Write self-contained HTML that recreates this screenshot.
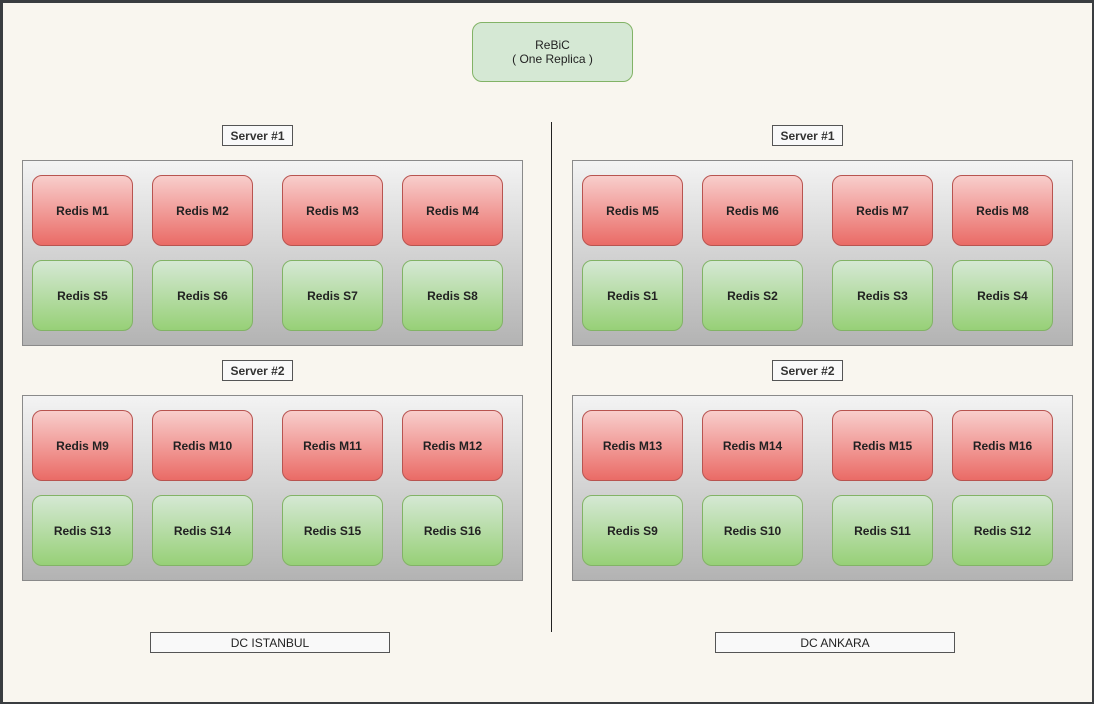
<!DOCTYPE html>
<html><head><style>
*{margin:0;padding:0;box-sizing:border-box}
body{width:1094px;height:704px;position:relative;background:#f9f6ef;font-family:"Liberation Sans",Arial,sans-serif;overflow:hidden}
.frame{position:absolute;left:0;top:0;width:1094px;height:704px;border:3px solid #3a3d40;border-right-width:2px;border-bottom-width:2px}
.a{position:absolute}
.srv{position:absolute;width:501px;height:186px;border:1px solid #8a8a8a;background:linear-gradient(#f3f3f3,#b3b3b3)}
.n{position:absolute;width:101px;height:71px;border-radius:10px;display:flex;align-items:center;justify-content:center;font-size:12px;font-weight:bold;color:#222}
.m{background:linear-gradient(#f8cecc,#ea6b66);border:1px solid #b85450}
.s{background:linear-gradient(#d5e8d4,#97d077);border:1px solid #82b366}
.lbl{position:absolute;border:1px solid #555;background:#f9f9f9;font-size:12px;display:flex;align-items:center;justify-content:center;color:#222}
.b{font-weight:bold;color:#333}
</style></head><body>
<div class="frame"></div>
<div class="a" style="left:472px;top:22px;width:161px;height:60px;border:1px solid #82b366;background:#d5e8d4;border-radius:10px;display:flex;align-items:center;justify-content:center;text-align:center;font-size:12px;line-height:14px;color:#222">ReBiC<br>( One Replica )</div>
<div class="a" style="left:551px;top:122px;width:1px;height:510px;background:#222"></div>
<div class="lbl" style="left:150px;top:632px;width:240px;height:21px">DC ISTANBUL</div>
<div class="lbl" style="left:715px;top:632px;width:240px;height:21px">DC ANKARA</div>
<div id="c"></div>
<script>
var h='';
var groups=[[0,160,['M1','M2','M3','M4'],['S5','S6','S7','S8'],'Server #1'],
[0,395,['M9','M10','M11','M12'],['S13','S14','S15','S16'],'Server #2'],
[550,160,['M5','M6','M7','M8'],['S1','S2','S3','S4'],'Server #1'],
[550,395,['M13','M14','M15','M16'],['S9','S10','S11','S12'],'Server #2']];
var xs=[32,152,282,402];
groups.forEach(function(g){
var dx=g[0],y=g[1];
h+='<div class="lbl b" style="left:'+(222+dx)+'px;top:'+(y-35)+'px;width:71px;height:21px">'+g[4]+'</div>';
h+='<div class="srv" style="left:'+(22+dx)+'px;top:'+y+'px"></div>';
for(var i=0;i<4;i++){
h+='<div class="n m" style="left:'+(xs[i]+dx)+'px;top:'+(y+15)+'px">Redis '+g[2][i]+'</div>';
h+='<div class="n s" style="left:'+(xs[i]+dx)+'px;top:'+(y+100)+'px">Redis '+g[3][i]+'</div>';
}});
document.getElementById('c').innerHTML=h;
</script>
</body></html>
